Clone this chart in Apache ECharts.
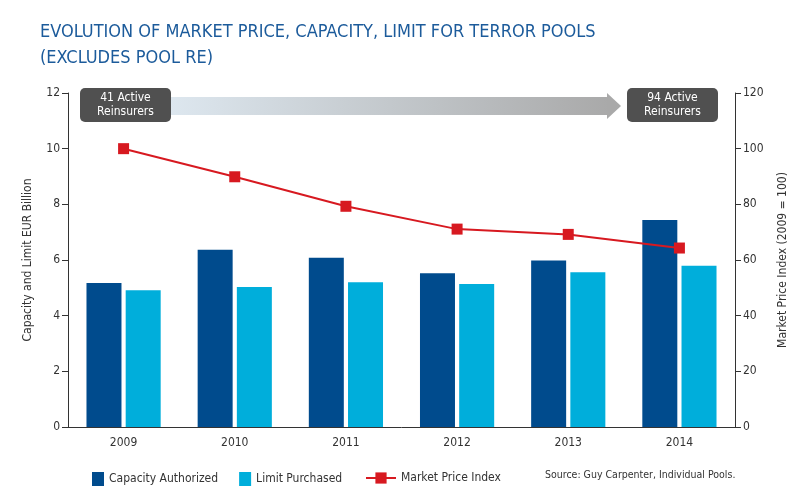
<!DOCTYPE html>
<html>
<head>
<meta charset="utf-8">
<script src="https://cdn.jsdelivr.net/npm/echarts@6/dist/echarts.min.js"></script>
<style>
  html, body { margin: 0; padding: 0; background: #fff; }
  #chart { width: 804px; height: 500px; }
</style>
</head>
<body>
<div id="chart"></div>
<script>
// data
var years = ['2009', '2010', '2011', '2012', '2013', '2014']
var capacityAuthorized = [5.17, 6.37, 6.08, 5.52, 5.98, 7.44]
var limitPurchased = [4.91, 5.03, 5.20, 5.14, 5.56, 5.79]
var marketPriceIndex = [100, 89.9, 79.3, 71.1, 69.2, 64.3]

var FONT = '"Liberation Sans Narrow", "DejaVu Sans Condensed", "Roboto", sans-serif'
var chart = echarts.init(document.getElementById('chart'))

chart.setOption({
  animation: false,
  textStyle: { fontFamily: FONT },
  grid: { left: 68, right: 69, top: 93, bottom: 73 },
  graphic: [
    {
      type: 'text', left: 40, top: 19,
      style: {
        text: 'EVOLUTION OF MARKET PRICE, CAPACITY, LIMIT FOR TERROR POOLS\n(EXCLUDES POOL RE)',
        font: '18px ' + FONT, fill: '#1c5b9b', lineHeight: 26
      }
    },
    // gradient arrow
    {
      type: 'rect', shape: { x: 170, y: 97, width: 440, height: 18 },
      style: {
        fill: new echarts.graphic.LinearGradient(0, 0, 1, 0, [
          { offset: 0, color: '#dde7ef' }, { offset: 1, color: '#a9a9a9' }
        ])
      }
    },
    {
      type: 'polygon', shape: { points: [[607, 93], [621, 106], [607, 119]] },
      style: { fill: '#a9a9a9' }
    },
    {
      type: 'rect', shape: { x: 80, y: 88, width: 91, height: 34, r: 5 },
      style: { fill: '#505050' }
    },
    {
      type: 'text', x: 125.5, y: 105,
      style: {
        text: '41 Active\nReinsurers', font: '12px ' + FONT, fill: '#fff',
        align: 'center', verticalAlign: 'middle', lineHeight: 14
      }
    },
    {
      type: 'rect', shape: { x: 627, y: 88, width: 91, height: 34, r: 5 },
      style: { fill: '#505050' }
    },
    {
      type: 'text', x: 672.5, y: 105,
      style: {
        text: '94 Active\nReinsurers', font: '12px ' + FONT, fill: '#fff',
        align: 'center', verticalAlign: 'middle', lineHeight: 14
      }
    },
    {
      type: 'text', x: 545, y: 475,
      style: {
        text: 'Source: Guy Carpenter, Individual Pools.', font: '10.5px ' + FONT,
        fill: '#333', verticalAlign: 'middle'
      }
    }
  ],
  legend: [
    {
      data: ['Capacity Authorized', 'Limit Purchased'],
      left: 87, top: 467, itemWidth: 12, itemHeight: 14, itemGap: 21,
      icon: 'rect',
      textStyle: { fontFamily: FONT, fontSize: 12, color: '#333' }
    },
    {
      data: ['Market Price Index'],
      left: 360, top: 467, itemWidth: 30, itemHeight: 14,
      textStyle: { fontFamily: FONT, fontSize: 12, color: '#333' }
    }
  ],
  xAxis: {
    type: 'category',
    data: years,
    axisLine: { lineStyle: { color: '#333' } },
    axisTick: { length: 7, lineStyle: { color: '#333' } },
    axisLabel: { color: '#333', fontSize: 12, margin: 10 }
  },
  yAxis: [
    {
      type: 'value', min: 0, max: 12, interval: 2,
      name: 'Capacity and Limit EUR Billion',
      nameLocation: 'middle', nameGap: 34, nameRotate: 90,
      nameTextStyle: { color: '#333', fontSize: 12 },
      axisLine: { show: true, lineStyle: { color: '#333' } },
      axisTick: { show: true, length: 6, lineStyle: { color: '#333' } },
      axisLabel: { color: '#333', fontSize: 12, margin: 8 },
      splitLine: { show: false }
    },
    {
      type: 'value', min: 0, max: 120, interval: 20,
      name: 'Market Price Index (2009 = 100)',
      nameLocation: 'middle', nameGap: 42, nameRotate: 90,
      nameTextStyle: { color: '#333', fontSize: 12 },
      axisLine: { show: true, lineStyle: { color: '#333' } },
      axisTick: { show: true, length: 6, lineStyle: { color: '#333' } },
      axisLabel: { color: '#333', fontSize: 12, margin: 8 },
      splitLine: { show: false }
    }
  ],
  series: [
    {
      name: 'Capacity Authorized', type: 'bar', data: capacityAuthorized,
      barWidth: 35, barGap: '12%',
      itemStyle: { color: '#004b8d' }
    },
    {
      name: 'Limit Purchased', type: 'bar', data: limitPurchased,
      barWidth: 35,
      itemStyle: { color: '#00aedb' }
    },
    {
      name: 'Market Price Index', type: 'line', yAxisIndex: 1, data: marketPriceIndex,
      symbol: 'rect', symbolSize: 11,
      lineStyle: { color: '#d71920', width: 2 },
      itemStyle: { color: '#d71920' }
    }
  ]
})
</script>
</body>
</html>
